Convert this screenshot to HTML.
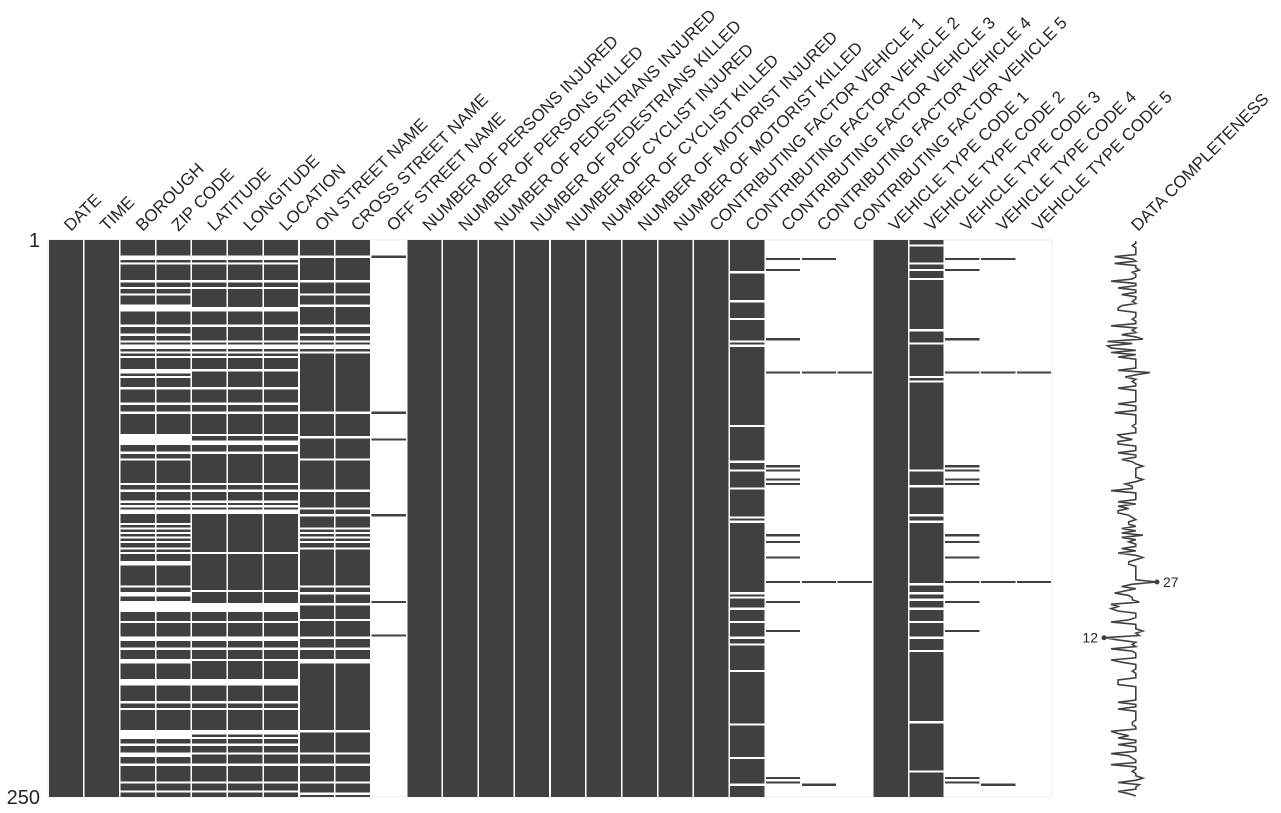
<!DOCTYPE html>
<html><head><meta charset="utf-8"><style>
body{margin:0;background:#fff;}
svg{display:block;font-family:"Liberation Sans",Arial,sans-serif;}
</style></head><body>
<svg id="chart" width="1281" height="813" viewBox="0 0 1281 813"></svg>
<script>
const columns = ["DATE","TIME","BOROUGH","ZIP CODE","LATITUDE","LONGITUDE","LOCATION","ON STREET NAME","CROSS STREET NAME","OFF STREET NAME","NUMBER OF PERSONS INJURED","NUMBER OF PERSONS KILLED","NUMBER OF PEDESTRIANS INJURED","NUMBER OF PEDESTRIANS KILLED","NUMBER OF CYCLIST INJURED","NUMBER OF CYCLIST KILLED","NUMBER OF MOTORIST INJURED","NUMBER OF MOTORIST KILLED","CONTRIBUTING FACTOR VEHICLE 1","CONTRIBUTING FACTOR VEHICLE 2","CONTRIBUTING FACTOR VEHICLE 3","CONTRIBUTING FACTOR VEHICLE 4","CONTRIBUTING FACTOR VEHICLE 5","VEHICLE TYPE CODE 1","VEHICLE TYPE CODE 2","VEHICLE TYPE CODE 3","VEHICLE TYPE CODE 4","VEHICLE TYPE CODE 5"];
const nRows = 250;
// missing row indices (0-based)
const missBorough = [7,8,10,18,21,24,29,30,31,38,42,45,47,48,50,52,58,59,61,66,73,77,87,88,89,90,91,95,98,109,112,117,119,121,122,127,129,131,133,135,138,140,144,145,155,158,159,162,163,164,165,166,171,178,179,183,188,189,197,198,199,207,210,220,221,222,223,226,230,231,235,243,247];
const missLocation = [7,8,10,18,21,30,31,38,45,47,48,50,52,58,66,73,77,87,90,91,95,109,112,117,119,121,122,140,157,163,164,165,166,171,178,179,183,188,197,198,199,207,210,220,221,223,226,230,235,243,247];
const missStreet = [7,18,24,29,38,42,45,47,48,50,77,88,98,112,120,123,129,131,133,135,138,155,158,163,170,178,183,188,189,220,230,235,243,248];
const presentOff = [7,77,89,123,162,177];
const missCF2 = [14,27,35,45,47,83,99,103,111,124,126,158,160,165,171,178,181,193,217,232,244];
const presentCF3 = [8,13,44,59,101,103,107,109,132,135,142,153,162,175,241,243];
const presentCF4 = [8,59,153,244];
const presentCF5 = [59,153];
const missVT2 = [2,10,13,17,40,46,61,63,103,110,123,126,154,158,161,165,171,178,184,216,238];
const presentVT3 = [8,13,44,59,101,103,107,109,132,135,142,153,162,175,241,243];
const presentVT4 = [8,59,153,244];
const presentVT5 = [59,153];

function missingFor(ci){
  const all=[...Array(nRows).keys()];
  const fromPresent=p=>all.filter(r=>!p.includes(r));
  switch(ci){
    case 2: case 3: return missBorough;
    case 4: case 5: case 6: return missLocation;
    case 7: case 8: return missStreet;
    case 9: return fromPresent(presentOff);
    case 19: return missCF2;
    case 20: return fromPresent(presentCF3);
    case 21: return fromPresent(presentCF4);
    case 22: return fromPresent(presentCF5);
    case 24: return missVT2;
    case 25: return fromPresent(presentVT3);
    case 26: return fromPresent(presentVT4);
    case 27: return fromPresent(presentVT5);
    default: return [];
  }
}
const NS="http://www.w3.org/2000/svg";
const svg=document.getElementById('chart');
const X0=48,X1=1052,Y0=240,Y1=797;
const colW=(X1-X0)/columns.length, rowH=(Y1-Y0)/nRows;
const xCol=i=>X0+i*colW, yRow=r=>Y0+r*rowH;
function mk(t,a){const e=document.createElementNS(NS,t);for(const k in a)e.setAttribute(k,a[k]);svg.appendChild(e);return e;}
const frame=mk('rect',{x:X0,y:Y0,width:X1-X0,height:Y1-Y0,fill:'#fff',stroke:'#eeeeee'});


const completeness=new Array(nRows).fill(0);
columns.forEach((c,ci)=>{
  const miss=new Set(missingFor(ci));
  let r=0;
  while(r<nRows){
    if(miss.has(r)){r++;continue;}
    let s=r; while(r<nRows&&!miss.has(r)){completeness[r]++;r++;}
    const el=mk('rect',{x:xCol(ci)+0.8,y:yRow(s),width:colW-1.6,height:(r-s)*rowH,fill:'#404040','shape-rendering':'crispEdges'});
    
    
  }
  const cx=xCol(ci)+colW/2+5;
  const t=mk('text',{x:cx,y:232,'font-size':17,fill:'#262626',transform:`rotate(-45 ${cx} 232)`});
  t.textContent=c;
  
  
});
const lab1=mk('text',{x:40,y:247,'font-size':20,fill:'#262626','text-anchor':'end'});lab1.textContent='1';


const lab2=mk('text',{x:40,y:804,'font-size':20,fill:'#262626','text-anchor':'end'});lab2.textContent='250';


// sparkline
const cl=mk('text',{x:1138,y:232,'font-size':17,fill:'#262626',transform:'rotate(-45 1138 232)'});cl.textContent='DATA COMPLETENESS';


const vmin=Math.min(...completeness), vmax=Math.max(...completeness);
const xs=v=>1104+(v-vmin)/(vmax-vmin||1)*53;
const pts=completeness.map((v,r)=>`${xs(v).toFixed(1)},${(yRow(r)+rowH/2).toFixed(1)}`).join(' ');
const pl=mk('polyline',{points:pts,fill:'none',stroke:'#404040','stroke-width':1.6});


const rMin=completeness.indexOf(vmin), rMax=completeness.indexOf(vmax);
const d1=mk('circle',{cx:xs(vmin),cy:yRow(rMin)+rowH/2,r:2.5,fill:'#404040'});


const d2=mk('circle',{cx:xs(vmax),cy:yRow(rMax)+rowH/2,r:2.5,fill:'#404040'});


const t1=mk('text',{x:xs(vmin)-6,y:yRow(rMin)+rowH/2+5,'font-size':14,fill:'#262626','text-anchor':'end'});t1.textContent=vmin;


const t2=mk('text',{x:xs(vmax)+6,y:yRow(rMax)+rowH/2+5,'font-size':14,fill:'#262626'});t2.textContent=vmax;


</script>
</body></html>
